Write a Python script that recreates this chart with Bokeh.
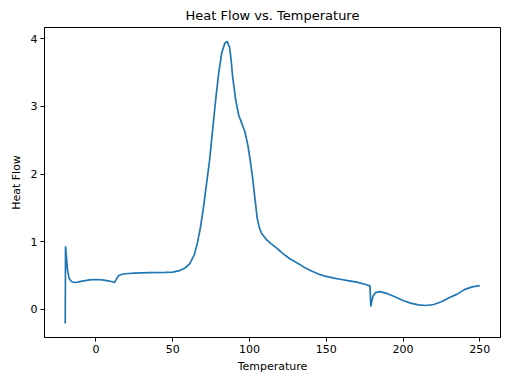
from bokeh.plotting import figure
from bokeh.models import FixedTicker, Range1d
from bokeh.embed import file_html
from bokeh.resources import INLINE

temperature = [-20, -19.8, -19.3, -18.5, -17.5, -16, -14, -12, -8, -4, 0, 4, 8, 10, 12, 13, 14.5, 16, 19, 25,
               35, 45, 50, 55, 58, 61, 64, 66, 68, 70, 72, 74, 76, 78, 80, 82, 84, 85.5, 87, 88, 89, 91, 93,
               95, 97, 99, 100.5, 102, 103.5, 105, 106.5, 108, 111, 114, 118, 122, 126, 130, 135, 140, 145,
               150, 155, 160, 165, 170, 175, 178.5, 179, 179.5, 180.5, 182, 185, 190, 195, 200, 205, 210,
               215, 220, 225, 230, 235, 240, 245, 250]
heat_flow = [-0.21, 0.93, 0.80, 0.58, 0.46, 0.41, 0.395, 0.40, 0.42, 0.435, 0.44, 0.435, 0.42, 0.41, 0.395,
             0.43, 0.49, 0.51, 0.525, 0.535, 0.54, 0.545, 0.55, 0.575, 0.61, 0.67, 0.80, 0.97, 1.2, 1.5,
             1.85, 2.2, 2.65, 3.1, 3.5, 3.8, 3.94, 3.96, 3.88, 3.7, 3.45, 3.1, 2.87, 2.75, 2.63, 2.42, 2.2,
             1.95, 1.65, 1.35, 1.2, 1.12, 1.03, 0.97, 0.9, 0.82, 0.75, 0.7, 0.63, 0.57, 0.52, 0.485, 0.46,
             0.44, 0.42, 0.40, 0.37, 0.345, 0.04, 0.10, 0.20, 0.245, 0.26, 0.23, 0.18, 0.13, 0.09, 0.065,
             0.055, 0.07, 0.11, 0.17, 0.22, 0.29, 0.33, 0.35]
x_ticks = [0, 50, 100, 150, 200, 250]
y_ticks = [0, 1, 2, 3, 4]

xmin, xmax = min(temperature), max(temperature)
ymin, ymax = min(heat_flow), max(heat_flow)
xpad = (xmax - xmin) * 0.05
ypad = (ymax - ymin) * 0.05

p = figure(width=504, height=376, output_backend="svg", toolbar_location=None,
           title="Heat Flow vs. Temperature",
           x_range=Range1d(xmin - xpad, xmax + xpad), y_range=Range1d(ymin - ypad, ymax + ypad),
           min_border_left=44, min_border_right=4, min_border_top=14, min_border_bottom=39)

p.line(temperature, heat_flow, line_color="#1f77b4", line_width=1.7)

font = "DejaVu Sans"
p.title.align = "center"
p.title.text_font = font
p.title.text_font_size = "13px"
p.title.text_font_style = "normal"
p.title.text_color = "black"

p.xgrid.visible = False
p.ygrid.visible = False
p.outline_line_color = "black"
p.outline_line_width = 1

p.xaxis.ticker = FixedTicker(ticks=x_ticks)
p.yaxis.ticker = FixedTicker(ticks=y_ticks)
p.xaxis.axis_label = "Temperature"
p.yaxis.axis_label = "Heat Flow"
for ax in (p.xaxis, p.yaxis):
    ax.axis_label_text_font = font
    ax.axis_label_text_font_size = "11px"
    ax.axis_label_text_font_style = "normal"
    ax.axis_label_text_color = "black"
    ax.major_label_text_font = font
    ax.major_label_text_font_size = "11px"
    ax.major_label_text_color = "black"
    ax.major_tick_out = 4
    ax.major_tick_in = 0
    ax.minor_tick_out = 0
    ax.minor_tick_in = 0
    ax.axis_line_color = "black"
    ax.major_tick_line_color = "black"
    ax.axis_label_standoff = 4
    ax.major_label_standoff = 3
p.yaxis.axis_label_standoff = 5

open("out.html", "w").write(file_html(p, INLINE))
